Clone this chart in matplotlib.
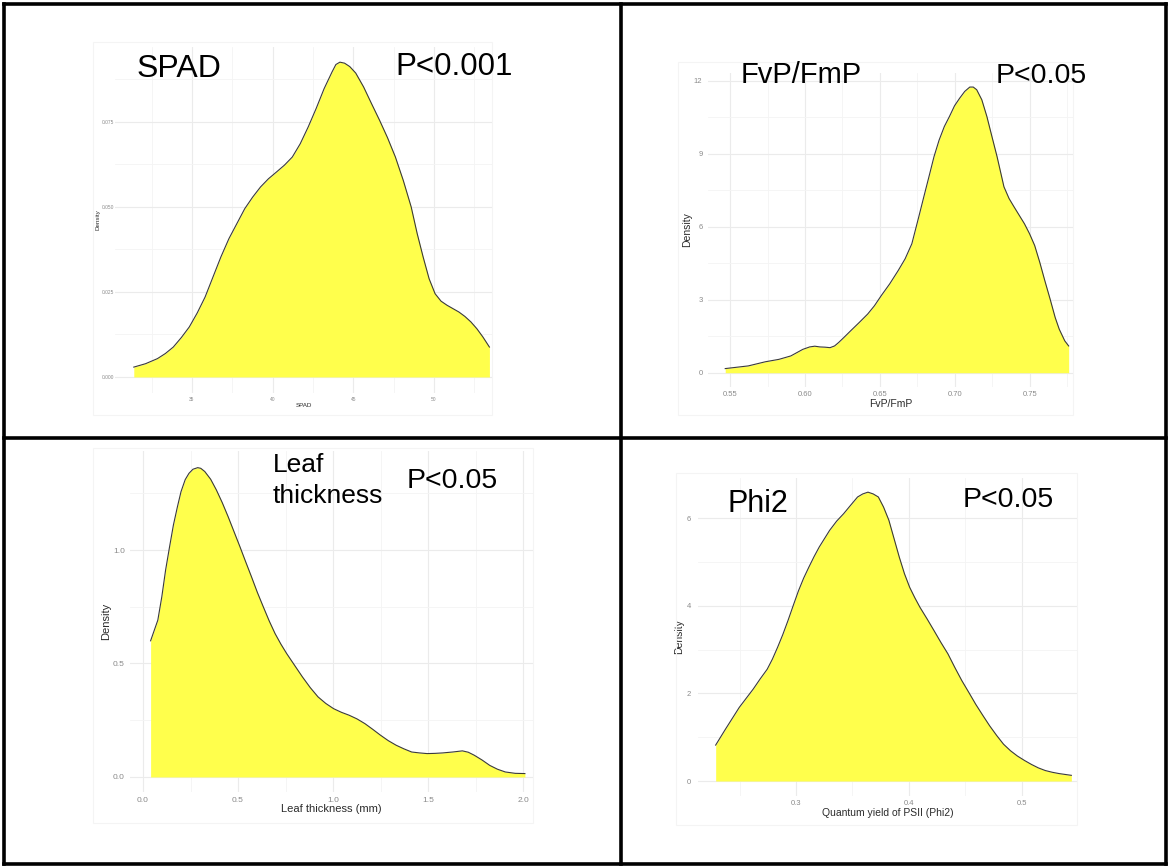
import matplotlib.pyplot as plt
from matplotlib.lines import Line2D
from matplotlib.patches import Rectangle

plt.rcParams['font.family'] = ['Liberation Sans', 'DejaVu Sans']

W, H = 1169, 867
FILL = '#ffff4c'
EDGE = '#3a3a3a'
TICK_COL = '#8a8a8a'
TITLE_COL = '#2b2b2b'

# --- data ---
spad_x = [31.39, 32.12, 32.86, 33.35, 33.84, 34.34, 34.83, 35.32, 35.81, 36.30,
          36.79, 37.29, 37.78, 38.27, 38.76, 39.25, 39.74, 40.24, 40.73, 41.22,
          41.71, 42.20, 42.70, 43.19, 43.68, 43.92, 44.17, 44.46, 44.78, 45.15,
          45.64, 46.13, 46.63, 47.12, 47.61, 48.10, 48.59, 48.96, 49.33, 49.70,
          50.07, 50.44, 50.81, 51.18, 51.55, 51.92, 52.29, 52.66, 53.03, 53.44]
spad_d = [0.0029, 0.0039, 0.0054, 0.0069, 0.0088, 0.0116, 0.0147, 0.0188, 0.0235, 0.0294,
          0.0353, 0.0407, 0.0451, 0.0495, 0.0529, 0.0559, 0.0583, 0.0603, 0.0623, 0.0647,
          0.0686, 0.0735, 0.0790, 0.0848, 0.0897, 0.0919, 0.0926, 0.0923, 0.0913, 0.0894,
          0.0853, 0.0804, 0.0755, 0.0704, 0.0647, 0.0578, 0.0500, 0.0422, 0.0353, 0.0289,
          0.0245, 0.0223, 0.0211, 0.0201, 0.0191, 0.0178, 0.0162, 0.0142, 0.0118, 0.0088]

fv_x = [0.5467, 0.5621, 0.5735, 0.5826, 0.5905, 0.5985, 0.6031, 0.6065, 0.6099, 0.6133,
        0.6167, 0.6197, 0.6224, 0.6258, 0.6304, 0.6361, 0.6418, 0.6463, 0.6509, 0.6565,
        0.6622, 0.6668, 0.6713, 0.6736, 0.6759, 0.6793, 0.6827, 0.6861, 0.6895, 0.6930,
        0.6964, 0.6998, 0.7032, 0.7066, 0.7100, 0.7123, 0.7146, 0.7180, 0.7214, 0.7248,
        0.7282, 0.7305, 0.7328, 0.7362, 0.7396, 0.7430, 0.7465, 0.7499, 0.7533, 0.7567,
        0.7601, 0.7636, 0.7670, 0.7697, 0.7734, 0.7760]
fv_d = [0.17, 0.28, 0.45, 0.55, 0.69, 0.96, 1.06, 1.09, 1.06, 1.05,
        1.03, 1.10, 1.24, 1.44, 1.72, 2.06, 2.41, 2.75, 3.17, 3.65,
        4.20, 4.68, 5.30, 5.85, 6.40, 7.23, 8.05, 8.88, 9.56, 10.12,
        10.53, 10.97, 11.28, 11.56, 11.74, 11.74, 11.63, 11.22, 10.53, 9.70,
        8.88, 8.26, 7.64, 7.16, 6.81, 6.47, 6.12, 5.71, 5.23, 4.54,
        3.78, 3.03, 2.27, 1.79, 1.31, 1.10]

leaf_x = [0.040, 0.078, 0.099, 0.119, 0.140, 0.160, 0.181, 0.200, 0.222, 0.242,
          0.263, 0.288, 0.304, 0.325, 0.356, 0.386, 0.417, 0.448, 0.479, 0.510,
          0.540, 0.571, 0.602, 0.633, 0.664, 0.695, 0.726, 0.756, 0.797, 0.839,
          0.880, 0.921, 0.962, 1.003, 1.044, 1.085, 1.126, 1.168, 1.209, 1.250,
          1.291, 1.332, 1.373, 1.414, 1.455, 1.496, 1.537, 1.578, 1.630, 1.681,
          1.712, 1.743, 1.784, 1.825, 1.866, 1.907, 1.959, 2.010]
leaf_d = [0.600, 0.691, 0.794, 0.912, 1.015, 1.110, 1.190, 1.257, 1.310, 1.338,
          1.356, 1.363, 1.360, 1.346, 1.312, 1.265, 1.209, 1.147, 1.081, 1.015,
          0.949, 0.882, 0.813, 0.750, 0.688, 0.632, 0.585, 0.544, 0.493, 0.441,
          0.394, 0.353, 0.324, 0.301, 0.285, 0.272, 0.256, 0.235, 0.210, 0.184,
          0.160, 0.140, 0.124, 0.110, 0.106, 0.103, 0.104, 0.106, 0.110, 0.115,
          0.109, 0.096, 0.075, 0.051, 0.034, 0.022, 0.016, 0.015]

phi_x = [0.2289, 0.2375, 0.2498, 0.2622, 0.2683, 0.2745, 0.2791, 0.2837, 0.2883, 0.2929,
         0.2975, 0.3022, 0.3068, 0.3114, 0.3160, 0.3206, 0.3252, 0.3298, 0.3360, 0.3422,
         0.3483, 0.3545, 0.3591, 0.3637, 0.3683, 0.3729, 0.3775, 0.3822, 0.3868, 0.3914,
         0.3960, 0.4006, 0.4052, 0.4098, 0.4160, 0.4222, 0.4283, 0.4345, 0.4406, 0.4468,
         0.4530, 0.4591, 0.4653, 0.4714, 0.4776, 0.4837, 0.4899, 0.4960, 0.5022, 0.5083,
         0.5145, 0.5206, 0.5268, 0.5329, 0.5437]
phi_d = [0.82, 1.18, 1.68, 2.10, 2.33, 2.55, 2.78, 3.05, 3.34, 3.66,
         4.00, 4.34, 4.63, 4.88, 5.12, 5.34, 5.53, 5.72, 5.93, 6.10,
         6.29, 6.48, 6.55, 6.59, 6.55, 6.48, 6.25, 5.95, 5.53, 5.11,
         4.73, 4.42, 4.18, 3.96, 3.70, 3.43, 3.16, 2.90, 2.59, 2.29,
         2.02, 1.75, 1.50, 1.26, 1.04, 0.84, 0.69, 0.57, 0.47, 0.38,
         0.30, 0.24, 0.20, 0.17, 0.13]

# tick positions and labels
spad_xt, spad_xl = [35, 40, 45, 50], ['35', '40', '45', '50']
spad_yt, spad_yl = [0, 0.025, 0.05, 0.075], ['0.000', '0.025', '0.050', '0.075']
fv_xt, fv_xl = [0.55, 0.60, 0.65, 0.70, 0.75], ['0.55', '0.60', '0.65', '0.70', '0.75']
fv_yt, fv_yl = [0, 3, 6, 9, 12], ['0', '3', '6', '9', '12']
leaf_xt, leaf_xl = [0, 0.5, 1.0, 1.5, 2.0], ['0.0', '0.5', '1.0', '1.5', '2.0']
leaf_yt, leaf_yl = [0, 0.5, 1.0], ['0.0', '0.5', '1.0']
phi_xt, phi_xl = [0.3, 0.4, 0.5], ['0.3', '0.4', '0.5']
phi_yt, phi_yl = [0, 2, 4, 6], ['0', '2', '4', '6']


def rect(l, t, r, b):
    return [l / W, 1 - b / H, (r - l) / W, (b - t) / H]


def midpoints(t, lo, hi):
    step = t[1] - t[0]
    out = []
    v = t[0] - step / 2
    while v < hi:
        if v > lo:
            out.append(v)
        v += step
    return out


def density_panel(fig, box, x, d, xt, xl, yt, yl, xlim, ylim, xlabel,
                  tick_fs, title_fs, pad_x, pad_y, lp_x, lp_y):
    ax = fig.add_axes(rect(*box))
    ax.fill_between(x, d, 0, color=FILL, lw=0, zorder=2)
    ax.plot(x, d, color=EDGE, lw=0.8, zorder=3, solid_joinstyle='round')
    ax.set_xlim(*xlim)
    ax.set_ylim(*ylim)
    ax.set_xticks(xt)
    ax.set_xticklabels(xl)
    ax.set_yticks(yt)
    ax.set_yticklabels(yl)
    ax.set_xticks(midpoints(xt, *xlim), minor=True)
    ax.set_yticks(midpoints(yt, *ylim), minor=True)
    ax.grid(which='major', color='#ebebeb', lw=0.8, zorder=0)
    ax.grid(which='minor', color='#f4f4f4', lw=0.6, zorder=0)
    ax.set_axisbelow(True)
    for s in ax.spines.values():
        s.set_visible(False)
    ax.tick_params(which='both', length=0, labelsize=tick_fs, colors=TICK_COL)
    ax.tick_params(axis='x', pad=pad_x)
    ax.tick_params(axis='y', pad=pad_y)
    ax.set_xlabel(xlabel, fontsize=title_fs, color=TITLE_COL, labelpad=lp_x)
    ax.set_ylabel('Density', fontsize=title_fs, color=TITLE_COL, labelpad=lp_y)
    return ax


fig = plt.figure(figsize=(W / 100, H / 100), dpi=100)

# faint screenshot frames
for l, t, r, b in [(93, 42, 492, 415), (678, 62, 1073, 415),
                   (93, 448, 533, 823), (676, 473, 1077, 825)]:
    fig.add_artist(Rectangle((l / W, 1 - b / H), (r - l) / W, (b - t) / H,
                             transform=fig.transFigure, fill=False,
                             ec='#f4f4f4', lw=0.8))

density_panel(fig, (115.4, 47.2, 492, 392.6), spad_x, spad_d, spad_xt, spad_xl,
              spad_yt, spad_yl, (30.25, 53.6), (-0.0046, 0.097), 'SPAD',
              3.5, 4.5, 3, 1, 1, 1)
density_panel(fig, (708, 72.7, 1073, 387), fv_x, fv_d, fv_xt, fv_xl,
              fv_yt, fv_yl, (0.5352, 0.7789), (-0.587, 12.33), 'FvP/FmP',
              5.5, 7.5, 3, 4, 0.5, 1.5)
density_panel(fig, (129.7, 451.3, 532.5, 792.4), leaf_x, leaf_d, leaf_xt, leaf_xl,
              leaf_yt, leaf_yl, (-0.07, 2.05), (-0.068, 1.435), 'Leaf thickness (mm)',
              6, 8, 3, 3.5, 0.5, 1.5)
density_panel(fig, (697.7, 477.7, 1078, 795.5), phi_x, phi_d, phi_xt, phi_xl,
              phi_yt, phi_yl, (0.213, 0.5496), (-0.33, 6.92), 'Quantum yield of PSII (Phi2)',
              5.5, 7.5, 3, 5, 1, 1.5)

# big annotations
def big(x, y, s, fs):
    fig.text(x / W, 1 - y / H, s, fontsize=fs, color='black', ha='left',
             va='baseline', linespacing=1.15)

big(137, 77, 'SPAD', 23)
big(395, 75, 'P<0.001', 22.5)
big(741, 83, 'FvP/FmP', 21)
big(996, 83, 'P<0.05', 20.5)
big(273, 472, 'Leaf', 19)
big(273, 503, 'thickness', 19)
big(407, 488, 'P<0.05', 20.5)
big(728, 512, 'Phi2', 22)
big(963, 507, 'P<0.05', 20.5)

# table borders
lw = 2.6
for (x0, y0, x1, y1) in [(4, 4, 1166, 4), (4, 864, 1166, 864), (4, 4, 4, 864),
                         (1166, 4, 1166, 864), (621, 4, 621, 864), (4, 438, 1166, 438)]:
    fig.add_artist(Line2D([x0 / W, x1 / W], [1 - y0 / H, 1 - y1 / H],
                          transform=fig.transFigure, color='black', lw=lw,
                          solid_capstyle='projecting'))

fig.savefig('out.png', dpi=100, facecolor='white')
